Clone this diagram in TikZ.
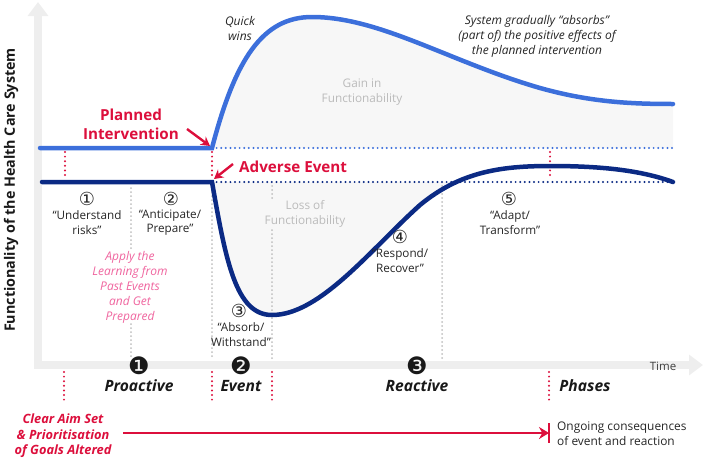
\documentclass[tikz,border=0pt]{standalone}
\usepackage{fontspec}
\setmainfont{Open Sans}
\newfontfamily\dv{DejaVu Sans}
\usetikzlibrary{arrows.meta,calc}
\definecolor{lblue}{HTML}{3C6FDB}
\definecolor{navy}{HTML}{0B2A84}
\definecolor{myred}{HTML}{DC0F3C}
\definecolor{mypink}{HTML}{F0659F}
\definecolor{axisgray}{HTML}{EEEEEE}
\definecolor{fillgray}{HTML}{F7F7F7}
\definecolor{txtgray}{HTML}{BBBBBB}
\begin{document}
\begin{tikzpicture}[x=1pt,y=-1pt,
  axisline/.style={draw=axisgray, line width=8pt, -{Triangle[length=14pt,width=20pt]}},
  curveblue/.style={draw=lblue, line width=4.5pt, line cap=round},
  curvenavy/.style={draw=navy, line width=4.5pt, line cap=round},
  dotline/.style={line width=2.2pt, line cap=round, dash pattern=on 0pt off 4.6pt},
  reddot/.style={draw=myred, line width=2.2pt, line cap=round, dash pattern=on 0pt off 4.6pt},
  graydot/.style={draw=black!25, line width=2pt, line cap=round, dash pattern=on 0pt off 4pt},
  redarrow/.style={draw=myred, line width=2.4pt, -{Stealth[length=9pt,width=10pt]}},
  lbl/.style={font=\fontsize{11.7}{14.5}\selectfont, align=center, inner sep=0pt, text=black!85},
  hint/.style={font=\fontsize{12}{15}\selectfont\itshape, align=center, inner sep=0pt, text=black!85},
  grayt/.style={font=\fontsize{11.8}{15}\selectfont, align=center, inner sep=0pt, text=txtgray},
  redbig/.style={font=\fontsize{15.2}{19}\selectfont\bfseries, align=center, inner sep=0pt, text=myred},
  phase/.style={font=\fontsize{15.6}{18}\selectfont\bfseries\itshape, inner sep=0pt, text=black!90},
  bnum/.style={font=\dv\fontsize{24}{24}\selectfont, inner sep=0pt, text=black!90},
  cnum/.style={font=\dv\fontsize{18}{18}\selectfont, inner sep=0pt, text=black!85}
]
\useasboundingbox (0,0) rectangle (703,458);
\def\bluepath{(212,148) .. controls (235,60) and (262,17) .. (312,17) .. controls (380,17) and (450,62) .. (540,88) .. controls (590,102) and (630,104) .. (673,104)}
\def\navypath{(212,182) .. controls (226,262) and (236,315) .. (272,315) .. controls (320,315) and (370,250) .. (420,205) .. controls (460,172) and (500,166) .. (550,166) .. controls (600,166) and (640,170) .. (673,182)}

% fills
\fill[fillgray] \bluepath -- (673,148) -- cycle;
\begin{scope}
  \clip (212,182) rectangle (673,360);
  \fill[fillgray] \navypath -- cycle;
\end{scope}

% axes
\coordinate (orig) at (38,365);
\coordinate (ytop) at (38,2);
\coordinate (xend) at (703,365);
\draw[axisline] (38,369) -- (ytop);
\draw[axisline] (34,365) -- (xend);

% gray dotted verticals
\foreach \x/\a/\b in {131/188/358, 212/188/358, 272/186/358, 442/186/358}
  \draw[graydot] (\x,\a) -- (\x,\b);

% dotted horizontals
\coordinate (pj) at (212,148);
\coordinate (aj) at (212,182);
\coordinate (bend) at (675,148);
\coordinate (nend) at (675,182);
\draw[dotline, draw=lblue] (pj) -- (bend);
\draw[dotline, draw=navy] (aj) -- (nend);

% red dotted verticals
\draw[reddot] (65,152) -- (65,179);
\draw[reddot] (212,152) -- (212,179);
\draw[reddot] (550,152) -- (550,179);
\foreach \x in {64,212,272,549}
  \draw[reddot] (\x,372) -- (\x,403);

% curves
\draw[curveblue] (40,148) -- \bluepath;
\draw[curvenavy] (42,182) -- \navypath;

% y label
\node[rotate=90, font=\fontsize{14.3}{16}\selectfont\bfseries, text=black!90, inner sep=0pt] (ylab) at (11,190) {Functionality of the Health Care System};

% step labels
\node[cnum] (c1) at (87,199) {①};
\node[lbl] (s1) at (87,222.5) {“Understand\\risks”};
\node[cnum] (c2) at (171,199) {②};
\node[lbl] (s2) at (170,222.5) {“Anticipate/\\Prepare”};
\node[cnum] (c3) at (239,311) {③};
\node[lbl] (s3) at (241,334.5) {“Absorb/\\Withstand”};
\node[cnum] (c4) at (400,237) {④};
\node[lbl] (s4) at (400,260.5) {“Respond/\\Recover”};
\node[cnum] (c5) at (509,199) {⑤};
\node[lbl] (s5) at (510,222.5) {“Adapt/\\Transform”};

\node[hint, text=mypink, fill=white] (learn) at (130,287) {Apply the\\Learning from\\Past Events\\and Get\\Prepared};
\node[hint] (quick) at (240,28) {Quick\\wins};
\node[hint] (absorb) at (537,36) {System gradually “absorbs”\\(part of) the positive effects of\\the planned intervention};
\node[grayt] (gain) at (362,92) {Gain in\\Functionability};
\node[grayt, fill=fillgray] (loss) at (305,214) {Loss of\\Functionability};

\node[redbig] (plan) at (131,124) {Planned\\Intervention};
\node[redbig, anchor=west] (adv) at (239,167) {Adverse Event};
\coordinate (planA) at (187,129);
\coordinate (planB) at (210,146);
\coordinate (advA) at (233,164);
\coordinate (advB) at (214,179);
\draw[redarrow] (planA) -- (planB);
\draw[redarrow] (advA) -- (advB);

% phases
\node[bnum] (n1) at (139,366) {❶};
\node[bnum] (n2) at (241,366) {❷};
\node[bnum] (n3) at (417,366) {❸};
\node[phase] (p1) at (139,386) {Proactive};
\node[phase] (p2) at (241,386) {Event};
\node[phase] (p3) at (417,386) {Reactive};
\node[phase] (p4) at (585,386) {Phases};
\node[font=\fontsize{11.5}{13}\selectfont, text=black!75, inner sep=0pt] (time) at (663,366) {Time};

% bottom
\node[font=\fontsize{12.8}{15.5}\selectfont\bfseries\itshape, text=myred, align=center, inner sep=0pt] (aim) at (63,436) {Clear Aim Set\\\& Prioritisation\\of Goals Altered};
\node[font=\fontsize{11.9}{15}\selectfont, text=black!85, align=left, anchor=west, inner sep=0pt] (ongo) at (557,434) {Ongoing consequences\\of event and reaction};
\coordinate (arrS) at (123,433);
\coordinate (arrE) at (549,433);
\draw[draw=myred, line width=2.2pt, -{Stealth[length=10pt,width=12pt]}] (arrS) -- (arrE);
\draw[draw=myred, line width=2.4pt] ($(arrE)+(0,-10)$) -- ($(arrE)+(0,10)$);
\end{tikzpicture}
\end{document}
